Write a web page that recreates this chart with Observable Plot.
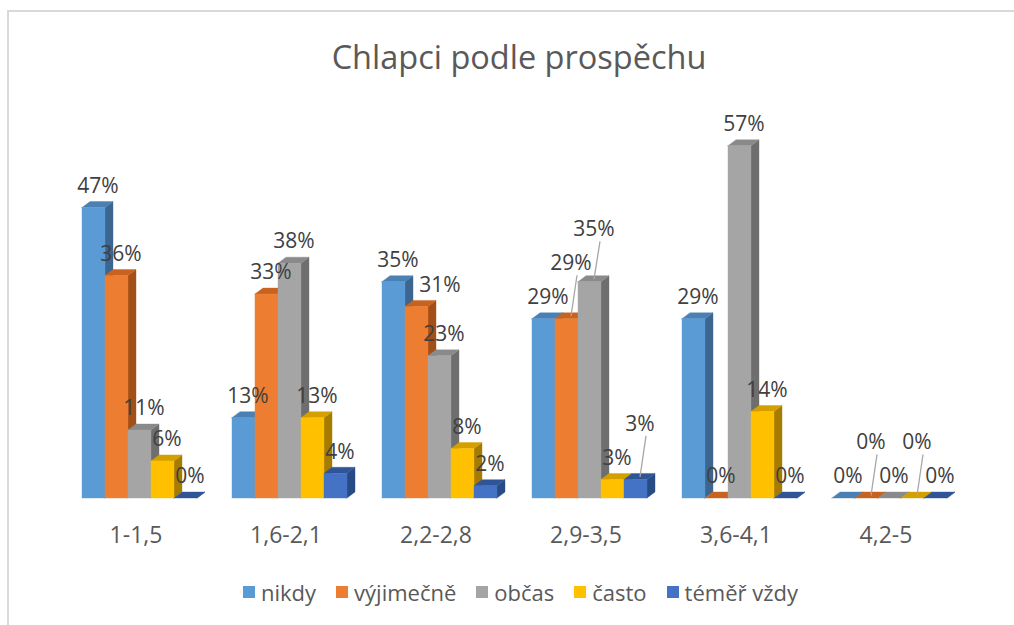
<!DOCTYPE html>
<html>
<head>
<meta charset="utf-8">
<script src="https://cdn.jsdelivr.net/npm/d3@7"></script>
<script src="https://cdn.jsdelivr.net/npm/@observablehq/plot@0.6"></script>
<style>
  html, body { margin: 0; padding: 0; background: #fff; overflow: hidden; }
  #wrap { position: relative; width: 1014px; height: 625px; font-family: "Open Sans", sans-serif; }
  #frame { position: absolute; left: 7px; top: 10px; width: 1100px; height: 700px; border: 2px solid #d9d9d9; box-sizing: border-box; }
  #title { position: absolute; left: 0; top: 35px; width: 1038px; text-align: center; font-size: 32.5px; color: #595959; line-height: 44px; }
  #chart { position: absolute; left: 0; top: 100px; }
  #legend { position: absolute; left: 243px; top: 578px; display: flex; align-items: center; gap: 20px; font-size: 22px; color: #595959; line-height: 28px; }
  .item { display: flex; align-items: center; gap: 6px; }
  .sw { width: 12px; height: 12px; display: inline-block; }
</style>
</head>
<body>
<div id="wrap">
  <div id="frame"></div>
  <div id="title">Chlapci podle prospěchu</div>
  <div id="chart"></div>
  <div id="legend"></div>
</div>
<script>
// ---- data ----
const categories = ["1-1,5", "1,6-2,1", "2,2-2,8", "2,9-3,5", "3,6-4,1", "4,2-5"];
const series = ["nikdy", "výjimečně", "občas", "často", "téměř vždy"];
const nikdy     = [47, 13, 35, 29, 29, 0];
const vyjimecne = [36, 33, 31, 29, 0, 0];
const obcas     = [11, 38, 23, 35, 57, 0];
const casto     = [6, 13, 8, 3, 14, 0];
const temerVzdy = [0, 4, 2, 3, 0, 0];
const seriesValues = [nikdy, vyjimecne, obcas, casto, temerVzdy];

// ---- styles ----
const frontColors = ["#5B9BD5", "#ED7D31", "#A5A5A5", "#FFC000", "#4472C4"];
const topColors   = ["#4A80B3", "#C8631F", "#8A8A8A", "#D4A000", "#2F5597"];
const sideColors  = ["#3C6690", "#A24F18", "#6E6E6E", "#A67C00", "#294B85"];

// ---- geometry (scale set-up) ----
const W = 1014, H = 460;
const mL = 64.5, mR = 49.5, mB = 62, yMax = 60, pxPerPct = 6.18;
const mT = H - mB - yMax * pxPerPct;
const pxPerX = (W - mL - mR) / 6;          // one category step
const BW = 23 / pxPerX;                    // bar width in x units
const DX = 8 / pxPerX;                     // depth offset, x units
const DY = 6 / pxPerPct;                   // depth offset, y units
const base = H - mB;
const yPx = v => base - v * pxPerPct;
const xPx = x => mL + (x + 0.5) * pxPerX;

const bars = [];
categories.forEach((c, g) => {
  series.forEach((s, i) => {
    const v = seriesValues[i][g];
    const x1 = g + (i - 2.5) * BW;
    bars.push({id: g * 10 + i, g, i, v, x1, x2: x1 + BW,
      front: frontColors[i], top: topColors[i], side: sideColors[i]});
  });
});

const sideRows = bars.flatMap(b => [
  {id: b.id, x: b.x2, y1: 0, y2: b.v, fill: b.side},
  {id: b.id, x: b.x2 + DX, y1: DY, y2: b.v + DY, fill: b.side}
]);
const topRows = bars.flatMap(b => [
  {id: b.id, x: b.x1, y1: b.v, y2: b.v, fill: b.top},
  {id: b.id, x: b.x1 + DX, y1: b.v, y2: b.v + DY, fill: b.top},
  {id: b.id, x: b.x2, y1: b.v, y2: b.v + DY, fill: b.top},
  {id: b.id, x: b.x2 + DX, y1: b.v + DY, y2: b.v + DY, fill: b.top}
]);

// ---- label placement: avoid overlaps (shift right beside a taller neighbour, else raise with a leader) ----
const labels = [], leaders = [];
categories.forEach((c, g) => {
  const placed = [];
  bars.filter(b => b.g === g).forEach(b => {
    const text = b.v + "%";
    const w = text.length * 12 + 4;
    const cx0 = xPx((b.x1 + b.x2) / 2) + 4;
    let cx = cx0;
    let cy = yPx(b.v) - 6 - 16;
    const y0 = cy;
    let moved = true, guard = 0;
    while (moved && guard++ < 20) {
      moved = false;
      for (const p of placed) {
        if (Math.abs(p.cx - cx) < (p.w + w) / 2 && Math.abs(p.cy - cy) < 26) {
          if (p.cy < cy - 10 && cy === y0) cx = p.cx + (p.w + w) / 2 + 2;
          else cy = p.cy - 34;
          moved = true;
        }
      }
    }
    placed.push({cx, cy, w});
    labels.push({x: (cx - mL) / pxPerX - 0.5, y: (base - cy) / pxPerPct, text});
    if (cy < y0 - 1) {
      const xd = (cx0 - mL) / pxPerX - 0.5;
      leaders.push({x1: xd, y1: b.v + DY / 2, x2: xd + 6 / pxPerX, y2: (base - cy - 12) / pxPerPct});
    }
  });
});

const chart = Plot.plot({
  width: W, height: H,
  marginLeft: mL, marginRight: mR, marginTop: mT, marginBottom: mB,
  x: {domain: [-0.5, 5.5], axis: null},
  y: {domain: [0, yMax], axis: null},
  color: {type: "identity"},
  style: {fontFamily: "Open Sans, sans-serif", fontSize: "21px", background: "transparent", overflow: "visible"},
  marks: [
    Plot.areaY(sideRows, {x: "x", y1: "y1", y2: "y2", z: "id", fill: "fill", stroke: "fill", strokeWidth: 0.4, curve: "linear"}),
    Plot.areaY(topRows, {x: "x", y1: "y1", y2: "y2", z: "id", fill: "fill", stroke: "fill", strokeWidth: 0.4, curve: "linear"}),
    Plot.rect(bars, {x1: "x1", x2: "x2", y1: 0, y2: "v", fill: "front", stroke: "front", strokeWidth: 0.4}),
    Plot.link(leaders, {x1: "x1", y1: "y1", x2: "x2", y2: "y2", stroke: "#a6a6a6", strokeWidth: 1.3}),
    Plot.text(labels, {x: "x", y: "y", text: "text", fill: "#404040", fontSize: 21}),
    Plot.text(categories.map((c, i) => ({i, c})), {x: "i", y: 0, dy: 37, dx: -4, text: "c", fill: "#595959", fontSize: 23})
  ]
});
document.getElementById("chart").appendChild(chart);

const legend = document.getElementById("legend");
series.forEach((s, i) => {
  const it = document.createElement("div");
  it.className = "item";
  it.innerHTML = `<span class="sw" style="background:${frontColors[i]}"></span><span>${s}</span>`;
  legend.appendChild(it);
});
</script>
</body>
</html>
